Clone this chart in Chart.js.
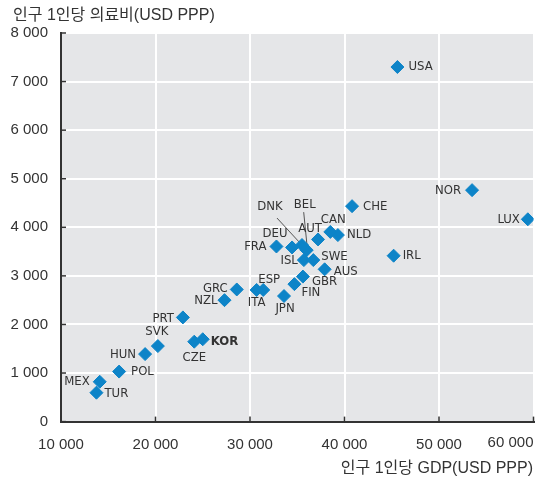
<!DOCTYPE html>
<html>
<head>
<meta charset="utf-8">
<script src="https://cdn.jsdelivr.net/npm/chart.js@4.4.0/dist/chart.umd.min.js"></script>
<style>
  html, body { margin: 0; padding: 0; background: #fff; }
</style>
</head>
<body>
<canvas id="healthChart" width="541" height="480"></canvas>
<script>
// Données
const countries = ['USA', 'NOR', 'LUX', 'CHE', 'IRL', 'NLD', 'CAN', 'AUT', 'BEL', 'DNK',
  'DEU', 'FRA', 'ISL', 'SWE', 'AUS', 'GBR', 'FIN', 'JPN', 'ESP', 'ITA',
  'GRC', 'NZL', 'PRT', 'KOR', 'CZE', 'SVK', 'HUN', 'POL', 'MEX', 'TUR'];
const gdpPerCapita = [45600, 53500, 59400, 40800, 45200, 39300, 38500, 37200, 36000, 35500,
  34450, 32800, 35700, 36700, 37900, 35600, 34700, 33600, 31400, 30700,
  28600, 27300, 22900, 25000, 24100, 20250, 18900, 16150, 14100, 13750];
const healthSpending = [7300, 4765, 4165, 4435, 3415, 3840, 3905, 3750, 3530, 3635,
  3585, 3605, 3325, 3325, 3135, 2985, 2830, 2585, 2710, 2710,
  2720, 2500, 2145, 1695, 1645, 1555, 1390, 1030, 820, 595];
const xTickValues = [10000, 20000, 30000, 40000, 50000, 60000];
const yTickValues = [0, 1000, 2000, 3000, 4000, 5000, 6000, 7000, 8000];
const yTitle = '인구 1인당 의료비(USD PPP)';
const xTitle = '인구 1인당 GDP(USD PPP)';
const boldLabels = ['KOR'];

// Placement des étiquettes: [dx, dy, alignement]
const labelPlacement = {
  USA: [11, 0, 'left'], NOR: [-11, 0, 'right'], LUX: [-8, 0, 'right'],
  CHE: [11, 0, 'left'], IRL: [9, 0, 'left'], NLD: [9, 0, 'left'],
  CAN: [3, -12, 'center'], AUT: [-8, -11, 'center'], BEL: [-2, -46, 'center'],
  DNK: [-32, -38, 'center'], DEU: [-17, -14, 'center'], FRA: [-10, 0, 'right'],
  ISL: [-6, 1, 'right'], SWE: [8, -3, 'left'], AUS: [9, 2, 'left'],
  GBR: [9, 5, 'left'], FIN: [7, 8, 'left'], JPN: [1, 13, 'center'],
  ESP: [6, -10, 'center'], ITA: [0, 13, 'center'], GRC: [-9, -1, 'right'],
  NZL: [-7, 0, 'right'], PRT: [-9, 1, 'right'], KOR: [8, 2, 'left'],
  CZE: [0, 16, 'center'], SVK: [-1, -14, 'center'], HUN: [-9, 1, 'right'],
  POL: [12, 0, 'left'], MEX: [-10, 0, 'right'], TUR: [8, 1, 'left']
};
// Traits de rappel: [x0, y0, x1, y1] relatifs au point
const leaderLines = {
  DNK: [-25, -27, -1, -1],
  BEL: [-3, -38, 1, 2]
};

const fmt = v => String(v).replace(/\B(?=(\d{3})+(?!\d))/g, ' ');
const labelFont = '"Liberation Sans Narrow", "DejaVu Sans Condensed", sans-serif';
const tickFont = '"Liberation Sans", Arial, sans-serif';

const decor = {
  id: 'decor',
  beforeDraw(chart) {
    const { ctx, chartArea: a } = chart;
    ctx.save();
    ctx.fillStyle = '#e5e6e8';
    ctx.fillRect(a.left, a.top, a.right - a.left, a.bottom - a.top);
    ctx.restore();
  },
  beforeDatasetsDraw(chart) {
    const { ctx } = chart;
    const pts = chart.getDatasetMeta(0).data;
    ctx.save();
    ctx.strokeStyle = '#555';
    ctx.lineWidth = 1;
    countries.forEach((c, i) => {
      const l = leaderLines[c];
      if (!l) return;
      ctx.beginPath();
      ctx.moveTo(pts[i].x + l[0], pts[i].y + l[1]);
      ctx.lineTo(pts[i].x + l[2], pts[i].y + l[3]);
      ctx.stroke();
    });
    ctx.restore();
  },
  afterDatasetsDraw(chart) {
    const { ctx } = chart;
    const pts = chart.getDatasetMeta(0).data;
    ctx.save();
    ctx.fillStyle = '#333';
    ctx.textBaseline = 'middle';
    countries.forEach((c, i) => {
      const p = labelPlacement[c] || [8, 0, 'left'];
      ctx.font = (boldLabels.includes(c) ? 'bold ' : '') + '13px ' + labelFont;
      ctx.textAlign = p[2];
      ctx.fillText(c, pts[i].x + p[0], pts[i].y + p[1]);
    });
    ctx.restore();
  },
  afterDraw(chart) {
    const { ctx, chartArea: a, scales } = chart;
    ctx.save();
    ctx.strokeStyle = '#333';
    ctx.lineWidth = 1.5;
    yTickValues.forEach(v => {
      const y = scales.y.getPixelForValue(v);
      ctx.beginPath(); ctx.moveTo(a.left, y); ctx.lineTo(a.left + 5, y); ctx.stroke();
    });
    xTickValues.forEach(v => {
      const x = scales.x.getPixelForValue(v);
      ctx.beginPath(); ctx.moveTo(x, a.bottom); ctx.lineTo(x, a.bottom - 5); ctx.stroke();
    });
    // dernière étiquette de l'axe x, alignée à droite
    const last = xTickValues[xTickValues.length - 1];
    ctx.fillStyle = '#333';
    ctx.font = '15px ' + tickFont;
    ctx.textAlign = 'right';
    ctx.textBaseline = 'top';
    ctx.fillText(fmt(last), scales.x.getPixelForValue(last), a.bottom + 14);
    // titres des axes
    ctx.font = '16px "Liberation Sans", "Noto Sans CJK KR", sans-serif';
    ctx.textBaseline = 'alphabetic';
    ctx.textAlign = 'left';
    ctx.fillText(yTitle, 13, 20);
    ctx.textAlign = 'right';
    ctx.fillText(xTitle, 533, 473);
    ctx.restore();
  }
};

const ctx = document.getElementById('healthChart').getContext('2d');
new Chart(ctx, {
  type: 'scatter',
  data: {
    datasets: [{
      data: countries.map((c, i) => ({ x: gdpPerCapita[i], y: healthSpending[i] })),
      backgroundColor: '#0d84c8',
      borderColor: '#0d84c8',
      borderWidth: 1,
      pointStyle: 'rectRot',
      pointRadius: 6.5,
      pointHoverRadius: 6.5
    }]
  },
  options: {
    responsive: false,
    devicePixelRatio: 1,
    animation: false,
    layout: { padding: { top: 33, right: 5, left: 0, bottom: 0 } },
    plugins: { legend: { display: false }, tooltip: { enabled: false } },
    scales: {
      x: {
        type: 'linear',
        min: 10000, max: 60000,
        afterFit: s => { s.height = 58.4; s.paddingLeft = 0; s.paddingRight = 0; },
        afterBuildTicks: s => { s.ticks = xTickValues.map(v => ({ value: v })); },
        grid: { color: '#fff', lineWidth: 2, drawTicks: false },
        border: { display: true, color: '#333', width: 2 },
        ticks: {
          padding: 14,
          maxRotation: 0,
          color: '#333',
          font: { family: tickFont, size: 15 },
          callback: v => v === xTickValues[xTickValues.length - 1] ? '' : fmt(v)
        }
      },
      y: {
        min: 0, max: 8000,
        afterFit: s => { s.width = 61; s.paddingTop = 0; s.paddingBottom = 0; },
        afterBuildTicks: s => { s.ticks = yTickValues.map(v => ({ value: v })); },
        grid: { color: '#fff', lineWidth: 2, drawTicks: false },
        border: { display: true, color: '#333', width: 2 },
        ticks: {
          padding: 13,
          color: '#333',
          font: { family: tickFont, size: 15 },
          callback: v => fmt(v)
        }
      }
    }
  },
  plugins: [decor]
});
</script>
</body>
</html>
